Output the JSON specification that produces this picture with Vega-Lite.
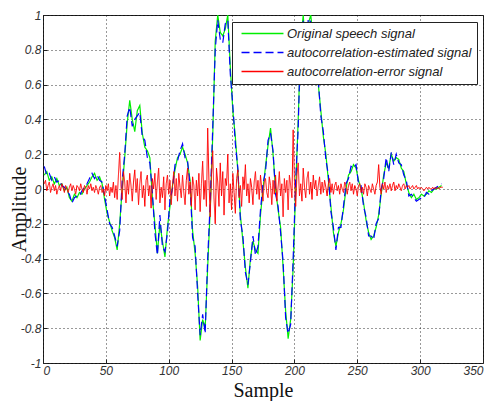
{
  "$schema": "https://vega.github.io/schema/vega-lite/v6.json",
  "width": 440,
  "height": 348,
  "autosize": "none",
  "padding": {"left": 43, "top": 15, "right": 10, "bottom": 38},
  "background": "white",
  "config": {
    "view": {"stroke": "#222", "strokeWidth": 1},
    "axis": {
      "grid": true,
      "gridColor": "#000",
      "gridDash": [1, 3],
      "gridOpacity": 0.8,
      "gridWidth": 1,
      "domain": false,
      "ticks": true,
      "tickSize": -4,
      "tickColor": "#222",
      "labelFont": "Liberation Sans",
      "labelFontStyle": "italic",
      "labelFontSize": 12,
      "labelColor": "#333",
      "titleFont": "Liberation Serif",
      "titleFontSize": 20,
      "titleFontWeight": "normal",
      "titleColor": "#111"
    }
  },
  "datasets": {
    "g": [
      {"x":1,"y":0.08},{"x":3,"y":0.10},{"x":5,"y":0.05},{"x":7,"y":0.07},{"x":9,"y":0.03},{"x":11,"y":0.06},{"x":13,"y":0.02},{"x":15,"y":0.03},{"x":17,"y":-0.01},{"x":19,"y":0.01},
      {"x":21,"y":-0.05},{"x":23,"y":-0.07},{"x":25,"y":-0.03},{"x":27,"y":-0.05},{"x":29,"y":-0.02},{"x":31,"y":-0.03},{"x":33,"y":0.00},{"x":35,"y":0.02},{"x":37,"y":0.04},{"x":39,"y":0.07},
      {"x":41,"y":0.09},{"x":43,"y":0.05},{"x":45,"y":0.07},{"x":47,"y":0.03},{"x":49,"y":-0.06},{"x":51,"y":-0.14},{"x":53,"y":-0.19},{"x":55,"y":-0.24},{"x":57,"y":-0.28},{"x":59,"y":-0.35},
      {"x":61,"y":-0.20},{"x":63,"y":0.00},{"x":65,"y":0.18},{"x":67,"y":0.38},{"x":69,"y":0.51},{"x":71,"y":0.40},{"x":73,"y":0.33},{"x":75,"y":0.45},{"x":77,"y":0.48},{"x":79,"y":0.32},
      {"x":81,"y":0.24},{"x":83,"y":0.22},{"x":85,"y":0.18},{"x":87,"y":-0.05},{"x":89,"y":-0.20},{"x":91,"y":-0.37},{"x":93,"y":-0.20},{"x":95,"y":-0.30},{"x":97,"y":-0.39},{"x":99,"y":-0.22},
      {"x":101,"y":-0.10},{"x":103,"y":0.02},{"x":105,"y":0.11},{"x":107,"y":0.18},{"x":109,"y":0.20},{"x":111,"y":0.24},{"x":113,"y":0.20},{"x":115,"y":0.15},{"x":117,"y":0.05},{"x":119,"y":-0.24},
      {"x":121,"y":-0.37},{"x":123,"y":-0.56},{"x":125,"y":-0.87},{"x":127,"y":-0.75},{"x":129,"y":-0.80},{"x":131,"y":-0.45},{"x":133,"y":-0.12},{"x":135,"y":0.30},{"x":137,"y":0.85},{"x":139,"y":1.00},
      {"x":141,"y":0.90},{"x":143,"y":0.88},{"x":145,"y":0.92},{"x":147,"y":1.00},{"x":149,"y":0.70},{"x":151,"y":0.45},{"x":153,"y":0.30},{"x":155,"y":0.10},{"x":157,"y":-0.15},{"x":159,"y":-0.30},
      {"x":161,"y":-0.45},{"x":163,"y":-0.57},{"x":165,"y":-0.40},{"x":167,"y":-0.30},{"x":169,"y":-0.35},{"x":171,"y":-0.37},{"x":173,"y":-0.15},{"x":175,"y":0.00},{"x":177,"y":0.13},{"x":179,"y":0.25},
      {"x":181,"y":0.35},{"x":183,"y":0.20},{"x":185,"y":0.00},{"x":187,"y":-0.12},{"x":189,"y":-0.22},{"x":191,"y":-0.45},{"x":193,"y":-0.70},{"x":195,"y":-0.86},{"x":197,"y":-0.75},{"x":199,"y":-0.45},
      {"x":201,"y":0.00},{"x":203,"y":0.40},{"x":205,"y":0.85},{"x":207,"y":1.00},{"x":209,"y":0.78},{"x":211,"y":0.95},{"x":213,"y":1.00},{"x":215,"y":0.85},{"x":217,"y":0.70},{"x":219,"y":0.60},
      {"x":221,"y":0.45},{"x":223,"y":0.30},{"x":225,"y":0.20},{"x":227,"y":0.05},{"x":229,"y":-0.10},{"x":231,"y":-0.25},{"x":233,"y":-0.33},{"x":235,"y":-0.25},{"x":237,"y":-0.20},{"x":239,"y":-0.12},
      {"x":241,"y":0.00},{"x":243,"y":0.08},{"x":245,"y":0.10},{"x":247,"y":0.14},{"x":249,"y":0.12},{"x":251,"y":0.05},{"x":253,"y":0.00},{"x":255,"y":-0.08},{"x":257,"y":-0.18},{"x":259,"y":-0.25},
      {"x":261,"y":-0.29},{"x":263,"y":-0.27},{"x":265,"y":-0.22},{"x":267,"y":-0.15},{"x":269,"y":-0.03},{"x":271,"y":0.08},{"x":273,"y":0.15},{"x":275,"y":0.12},{"x":277,"y":0.20},{"x":279,"y":0.16},
      {"x":281,"y":0.18},{"x":283,"y":0.17},{"x":285,"y":0.12},{"x":287,"y":0.10},{"x":289,"y":0.03},{"x":291,"y":-0.02},{"x":293,"y":-0.05},{"x":295,"y":-0.03},{"x":297,"y":-0.06},{"x":299,"y":-0.05},
      {"x":301,"y":-0.03},{"x":303,"y":-0.04},{"x":305,"y":-0.03},{"x":307,"y":-0.01},{"x":309,"y":-0.02},{"x":311,"y":0.00},{"x":313,"y":0.00},{"x":315,"y":0.01},{"x":317,"y":0.02}
    ],
    "b": [
      {"x":1,"y":0.13},{"x":3,"y":0.08},{"x":5,"y":0.09},{"x":7,"y":0.05},{"x":9,"y":0.07},{"x":11,"y":0.04},{"x":13,"y":0.05},{"x":15,"y":0.02},{"x":17,"y":0.01},{"x":19,"y":-0.01},
      {"x":21,"y":-0.03},{"x":23,"y":-0.08},{"x":25,"y":-0.05},{"x":27,"y":-0.04},{"x":29,"y":-0.04},{"x":31,"y":-0.01},{"x":33,"y":0.01},{"x":35,"y":0.03},{"x":37,"y":0.06},{"x":39,"y":0.09},
      {"x":41,"y":0.06},{"x":43,"y":0.08},{"x":45,"y":0.05},{"x":47,"y":0.04},{"x":49,"y":-0.04},{"x":51,"y":-0.12},{"x":53,"y":-0.20},{"x":55,"y":-0.22},{"x":57,"y":-0.27},{"x":59,"y":-0.33},
      {"x":61,"y":-0.24},{"x":63,"y":0.05},{"x":65,"y":0.20},{"x":67,"y":0.42},{"x":69,"y":0.47},{"x":71,"y":0.36},{"x":73,"y":0.40},{"x":75,"y":0.42},{"x":77,"y":0.44},{"x":79,"y":0.30},
      {"x":81,"y":0.28},{"x":83,"y":0.18},{"x":85,"y":0.15},{"x":87,"y":-0.02},{"x":89,"y":-0.25},{"x":91,"y":-0.38},{"x":93,"y":-0.15},{"x":95,"y":-0.33},{"x":97,"y":-0.36},{"x":99,"y":-0.25},
      {"x":101,"y":-0.06},{"x":103,"y":0.00},{"x":105,"y":0.14},{"x":107,"y":0.16},{"x":109,"y":0.22},{"x":111,"y":0.26},{"x":113,"y":0.18},{"x":115,"y":0.16},{"x":117,"y":0.02},{"x":119,"y":-0.28},
      {"x":121,"y":-0.33},{"x":123,"y":-0.60},{"x":125,"y":-0.84},{"x":127,"y":-0.72},{"x":129,"y":-0.83},{"x":131,"y":-0.40},{"x":133,"y":-0.08},{"x":135,"y":0.35},{"x":137,"y":0.80},{"x":139,"y":0.97},
      {"x":141,"y":0.86},{"x":143,"y":0.84},{"x":145,"y":0.95},{"x":147,"y":0.97},{"x":149,"y":0.66},{"x":151,"y":0.48},{"x":153,"y":0.26},{"x":155,"y":0.12},{"x":157,"y":-0.18},{"x":159,"y":-0.27},
      {"x":161,"y":-0.48},{"x":163,"y":-0.55},{"x":165,"y":-0.42},{"x":167,"y":-0.27},{"x":169,"y":-0.38},{"x":171,"y":-0.33},{"x":173,"y":-0.12},{"x":175,"y":0.03},{"x":177,"y":0.10},{"x":179,"y":0.28},
      {"x":181,"y":0.32},{"x":183,"y":0.22},{"x":185,"y":-0.03},{"x":187,"y":-0.10},{"x":189,"y":-0.25},{"x":191,"y":-0.42},{"x":193,"y":-0.74},{"x":195,"y":-0.83},{"x":197,"y":-0.78},{"x":199,"y":-0.40},
      {"x":201,"y":0.05},{"x":203,"y":0.35},{"x":205,"y":0.90},{"x":207,"y":0.97},{"x":209,"y":0.74},{"x":211,"y":0.98},{"x":213,"y":0.96},{"x":215,"y":0.88},{"x":217,"y":0.66},{"x":219,"y":0.62},
      {"x":221,"y":0.42},{"x":223,"y":0.33},{"x":225,"y":0.17},{"x":227,"y":0.08},{"x":229,"y":-0.13},{"x":231,"y":-0.22},{"x":233,"y":-0.35},{"x":235,"y":-0.22},{"x":237,"y":-0.22},{"x":239,"y":-0.10},
      {"x":241,"y":0.03},{"x":243,"y":0.06},{"x":245,"y":0.13},{"x":247,"y":0.12},{"x":249,"y":0.14},{"x":251,"y":0.03},{"x":253,"y":0.02},{"x":255,"y":-0.10},{"x":257,"y":-0.16},{"x":259,"y":-0.27},
      {"x":261,"y":-0.27},{"x":263,"y":-0.29},{"x":265,"y":-0.20},{"x":267,"y":-0.17},{"x":269,"y":0.00},{"x":271,"y":0.06},{"x":273,"y":0.18},{"x":275,"y":0.10},{"x":277,"y":0.21},{"x":279,"y":0.14},
      {"x":281,"y":0.20},{"x":283,"y":0.15},{"x":285,"y":0.14},{"x":287,"y":0.08},{"x":289,"y":0.05},{"x":291,"y":-0.04},{"x":293,"y":-0.03},{"x":295,"y":-0.05},{"x":297,"y":-0.07},{"x":299,"y":-0.06},
      {"x":301,"y":-0.05},{"x":303,"y":-0.05},{"x":305,"y":-0.02},{"x":307,"y":-0.03},{"x":309,"y":-0.01},{"x":311,"y":0.00},{"x":313,"y":0.01},{"x":315,"y":0.02},{"x":317,"y":0.03}
    ],
    "r": [
      {"x":1,"y":0.03},{"x":2,"y":0.05},{"x":3,"y":-0.01},{"x":4,"y":0.02},{"x":5,"y":0.04},{"x":6,"y":-0.02},{"x":7,"y":0.01},{"x":8,"y":0.03},{"x":9,"y":-0.01},{"x":10,"y":0.02},
      {"x":11,"y":-0.03},{"x":12,"y":0.00},{"x":13,"y":0.02},{"x":14,"y":-0.01},{"x":15,"y":0.03},{"x":16,"y":0.01},{"x":17,"y":-0.02},{"x":18,"y":0.02},{"x":19,"y":0.00},{"x":20,"y":-0.02},
      {"x":21,"y":0.01},{"x":22,"y":0.03},{"x":23,"y":-0.01},{"x":24,"y":0.02},{"x":25,"y":0.00},{"x":26,"y":-0.03},{"x":27,"y":0.02},{"x":28,"y":0.01},{"x":29,"y":-0.01},{"x":30,"y":0.03},
      {"x":31,"y":0.00},{"x":32,"y":-0.02},{"x":33,"y":0.02},{"x":34,"y":0.01},{"x":35,"y":-0.03},{"x":36,"y":0.02},{"x":37,"y":0.00},{"x":38,"y":0.03},{"x":39,"y":-0.01},{"x":40,"y":0.01},
      {"x":41,"y":-0.02},{"x":42,"y":0.02},{"x":43,"y":0.00},{"x":44,"y":-0.03},{"x":45,"y":0.01},{"x":46,"y":0.02},{"x":47,"y":-0.02},{"x":48,"y":0.00},{"x":49,"y":-0.04},{"x":50,"y":0.02},
      {"x":51,"y":-0.01},{"x":52,"y":0.03},{"x":53,"y":-0.04},{"x":54,"y":0.01},{"x":55,"y":-0.02},{"x":56,"y":0.04},{"x":57,"y":-0.05},{"x":58,"y":0.02},{"x":59,"y":-0.06},{"x":60,"y":0.08},
      {"x":61,"y":0.21},{"x":62,"y":0.02},{"x":63,"y":-0.06},{"x":64,"y":0.10},{"x":65,"y":0.04},{"x":66,"y":-0.08},{"x":67,"y":0.05},{"x":68,"y":-0.03},{"x":69,"y":0.09},{"x":70,"y":0.02},
      {"x":71,"y":-0.07},{"x":72,"y":0.04},{"x":73,"y":0.11},{"x":74,"y":-0.02},{"x":75,"y":0.06},{"x":76,"y":-0.09},{"x":77,"y":0.03},{"x":78,"y":0.10},{"x":79,"y":-0.05},{"x":80,"y":0.02},
      {"x":81,"y":-0.10},{"x":82,"y":0.05},{"x":83,"y":0.08},{"x":84,"y":-0.04},{"x":85,"y":0.02},{"x":86,"y":-0.11},{"x":87,"y":0.06},{"x":88,"y":0.00},{"x":89,"y":0.09},{"x":90,"y":-0.06},
      {"x":91,"y":0.04},{"x":92,"y":0.12},{"x":93,"y":-0.08},{"x":94,"y":0.01},{"x":95,"y":-0.05},{"x":96,"y":0.07},{"x":97,"y":-0.12},{"x":98,"y":0.03},{"x":99,"y":0.08},{"x":100,"y":-0.03},
      {"x":101,"y":0.05},{"x":102,"y":-0.09},{"x":103,"y":0.02},{"x":104,"y":0.10},{"x":105,"y":-0.04},{"x":106,"y":0.06},{"x":107,"y":-0.07},{"x":108,"y":0.09},{"x":109,"y":0.01},{"x":110,"y":-0.05},
      {"x":111,"y":0.08},{"x":112,"y":-0.02},{"x":113,"y":-0.09},{"x":114,"y":0.05},{"x":115,"y":0.12},{"x":116,"y":-0.03},{"x":117,"y":0.04},{"x":118,"y":-0.10},{"x":119,"y":0.07},{"x":120,"y":0.02},
      {"x":121,"y":-0.12},{"x":122,"y":0.05},{"x":123,"y":-0.04},{"x":124,"y":0.09},{"x":125,"y":-0.13},{"x":126,"y":0.03},{"x":127,"y":0.16},{"x":128,"y":-0.06},{"x":129,"y":0.05},{"x":130,"y":-0.10},
      {"x":131,"y":0.35},{"x":132,"y":0.05},{"x":133,"y":-0.16},{"x":134,"y":0.08},{"x":135,"y":0.22},{"x":136,"y":-0.05},{"x":137,"y":-0.20},{"x":138,"y":0.12},{"x":139,"y":0.04},{"x":140,"y":-0.10},
      {"x":141,"y":0.15},{"x":142,"y":-0.04},{"x":143,"y":0.10},{"x":144,"y":-0.15},{"x":145,"y":0.06},{"x":146,"y":0.02},{"x":147,"y":0.20},{"x":148,"y":-0.08},{"x":149,"y":0.03},{"x":150,"y":-0.12},
      {"x":151,"y":0.09},{"x":152,"y":-0.02},{"x":153,"y":-0.14},{"x":154,"y":0.06},{"x":155,"y":0.11},{"x":156,"y":-0.05},{"x":157,"y":0.02},{"x":158,"y":-0.10},{"x":159,"y":0.07},{"x":160,"y":0.00},
      {"x":161,"y":0.14},{"x":162,"y":-0.04},{"x":163,"y":0.03},{"x":164,"y":-0.08},{"x":165,"y":0.06},{"x":166,"y":0.01},{"x":167,"y":-0.09},{"x":168,"y":0.04},{"x":169,"y":0.10},{"x":170,"y":-0.03},
      {"x":171,"y":0.05},{"x":172,"y":-0.06},{"x":173,"y":0.08},{"x":174,"y":0.00},{"x":175,"y":-0.07},{"x":176,"y":0.04},{"x":177,"y":0.06},{"x":178,"y":-0.02},{"x":179,"y":-0.05},{"x":180,"y":0.07},
      {"x":181,"y":0.02},{"x":182,"y":-0.09},{"x":183,"y":0.05},{"x":184,"y":-0.03},{"x":185,"y":0.08},{"x":186,"y":-0.07},{"x":187,"y":0.01},{"x":188,"y":0.10},{"x":189,"y":-0.04},{"x":190,"y":0.03},
      {"x":191,"y":-0.16},{"x":192,"y":0.06},{"x":193,"y":-0.02},{"x":194,"y":0.05},{"x":195,"y":-0.12},{"x":196,"y":0.08},{"x":197,"y":0.02},{"x":198,"y":-0.05},{"x":199,"y":0.34},{"x":200,"y":0.05},
      {"x":201,"y":-0.10},{"x":202,"y":0.08},{"x":203,"y":0.15},{"x":204,"y":-0.04},{"x":205,"y":0.03},{"x":206,"y":-0.07},{"x":207,"y":0.12},{"x":208,"y":0.01},{"x":209,"y":-0.05},{"x":210,"y":0.06},
      {"x":211,"y":0.10},{"x":212,"y":-0.03},{"x":213,"y":0.04},{"x":214,"y":-0.06},{"x":215,"y":0.08},{"x":216,"y":0.00},{"x":217,"y":0.05},{"x":218,"y":-0.04},{"x":219,"y":0.02},{"x":220,"y":0.07},
      {"x":221,"y":-0.03},{"x":222,"y":0.04},{"x":223,"y":-0.02},{"x":224,"y":0.05},{"x":225,"y":0.01},{"x":226,"y":-0.04},{"x":227,"y":0.03},{"x":228,"y":0.06},{"x":229,"y":-0.02},{"x":230,"y":0.03},
      {"x":231,"y":-0.03},{"x":232,"y":0.02},{"x":233,"y":0.04},{"x":234,"y":-0.01},{"x":235,"y":0.02},{"x":236,"y":-0.03},{"x":237,"y":0.03},{"x":238,"y":0.00},{"x":239,"y":-0.02},{"x":240,"y":0.04},
      {"x":241,"y":0.01},{"x":242,"y":-0.03},{"x":243,"y":0.02},{"x":244,"y":0.04},{"x":245,"y":-0.01},{"x":246,"y":0.03},{"x":247,"y":-0.03},{"x":248,"y":0.02},{"x":249,"y":0.00},{"x":250,"y":-0.04},
      {"x":251,"y":0.02},{"x":252,"y":0.03},{"x":253,"y":-0.02},{"x":254,"y":0.01},{"x":255,"y":-0.03},{"x":256,"y":0.03},{"x":257,"y":0.01},{"x":258,"y":-0.04},{"x":259,"y":0.02},{"x":260,"y":0.00},
      {"x":261,"y":-0.02},{"x":262,"y":0.03},{"x":263,"y":0.00},{"x":264,"y":-0.03},{"x":265,"y":0.02},{"x":266,"y":0.04},{"x":267,"y":0.14},{"x":268,"y":0.01},{"x":269,"y":-0.03},{"x":270,"y":0.03},
      {"x":271,"y":0.00},{"x":272,"y":0.04},{"x":273,"y":-0.02},{"x":274,"y":0.02},{"x":275,"y":0.00},{"x":276,"y":0.03},{"x":277,"y":-0.01},{"x":278,"y":0.02},{"x":279,"y":0.04},{"x":280,"y":-0.01},
      {"x":281,"y":0.02},{"x":282,"y":0.00},{"x":283,"y":0.03},{"x":284,"y":0.01},{"x":285,"y":-0.01},{"x":286,"y":0.02},{"x":287,"y":0.03},{"x":288,"y":0.00},{"x":289,"y":0.02},{"x":290,"y":0.01},
      {"x":291,"y":0.02},{"x":292,"y":0.00},{"x":293,"y":0.01},{"x":294,"y":0.02},{"x":295,"y":0.00},{"x":296,"y":0.01},{"x":297,"y":0.02},{"x":298,"y":0.00},{"x":299,"y":0.01},{"x":300,"y":0.00},
      {"x":301,"y":0.01},{"x":302,"y":0.00},{"x":303,"y":-0.01},{"x":304,"y":0.00},{"x":305,"y":0.01},{"x":306,"y":0.00},{"x":307,"y":0.01},{"x":308,"y":0.00},{"x":309,"y":0.00},{"x":310,"y":0.01},
      {"x":311,"y":0.00},{"x":312,"y":0.01},{"x":313,"y":0.00},{"x":314,"y":0.01},{"x":315,"y":0.00},{"x":316,"y":0.01},{"x":317,"y":0.01},{"x":318,"y":0.01}
    ]
  },
  "encoding": {
    "x": {
      "field": "x", "type": "quantitative",
      "scale": {"domain": [0, 350], "nice": false, "zero": false},
      "axis": {"values": [0,50,100,150,200,250,300,350], "title": "Sample", "labelPadding": 6, "titleY": 33, "titleBaseline": "alphabetic"}
    },
    "y": {
      "field": "y", "type": "quantitative",
      "scale": {"domain": [-1, 1], "nice": false},
      "axis": {"values": [-1,-0.8,-0.6,-0.4,-0.2,0,0.2,0.4,0.6,0.8,1], "labelExpr": "'' + round(datum.value*10)/10", "labelPadding": 6, "title": "Amplitude", "titleAngle": -90, "titleX": -18, "titleY": 194, "titleAlign": "center", "titleBaseline": "alphabetic"}
    },
    "color": {
      "type": "nominal",
      "scale": {"domain": ["Original speech signal", "autocorrelation-estimated signal", "autocorrelation-error signal"], "range": ["#00ee00", "#0000ff", "#ff0000"]},
      "legend": {"title": null, "orient": "none", "legendX": 189, "legendY": 7, "strokeColor": "#222", "fillColor": "white", "padding": 5, "symbolType": "M-4,0H4", "symbolSize": 110, "symbolStrokeWidth": 1.3, "symbolOffset": 19, "labelOffset": 18, "labelFont": "Liberation Sans", "labelFontStyle": "italic", "labelFontSize": 13, "labelColor": "#222", "labelLimit": 400, "rowPadding": 5}
    },
    "strokeDash": {
      "type": "nominal",
      "scale": {"domain": ["Original speech signal", "autocorrelation-estimated signal", "autocorrelation-error signal"], "range": [[1, 0], [8, 4], [1, 0]]},
      "legend": {"title": null, "orient": "none", "legendX": 189, "legendY": 7, "strokeColor": "#222", "fillColor": "white", "padding": 5, "symbolType": "M-4,0H4", "symbolSize": 110, "symbolStrokeWidth": 1.3, "symbolOffset": 19, "labelOffset": 18, "labelFont": "Liberation Sans", "labelFontStyle": "italic", "labelFontSize": 13, "labelColor": "#222", "labelLimit": 400, "rowPadding": 5}
    }
  },
  "layer": [
    {"data": {"name": "g"}, "mark": {"type": "line", "strokeWidth": 1.2, "clip": true}, "encoding": {"color": {"datum": "Original speech signal"}, "strokeDash": {"datum": "Original speech signal"}}},
    {"data": {"name": "b"}, "mark": {"type": "line", "strokeWidth": 1.2, "clip": true}, "encoding": {"color": {"datum": "autocorrelation-estimated signal"}, "strokeDash": {"datum": "autocorrelation-estimated signal"}}},
    {"data": {"name": "r"}, "mark": {"type": "line", "strokeWidth": 1.0, "clip": true}, "encoding": {"color": {"datum": "autocorrelation-error signal"}, "strokeDash": {"datum": "autocorrelation-error signal"}}}
  ]
}
